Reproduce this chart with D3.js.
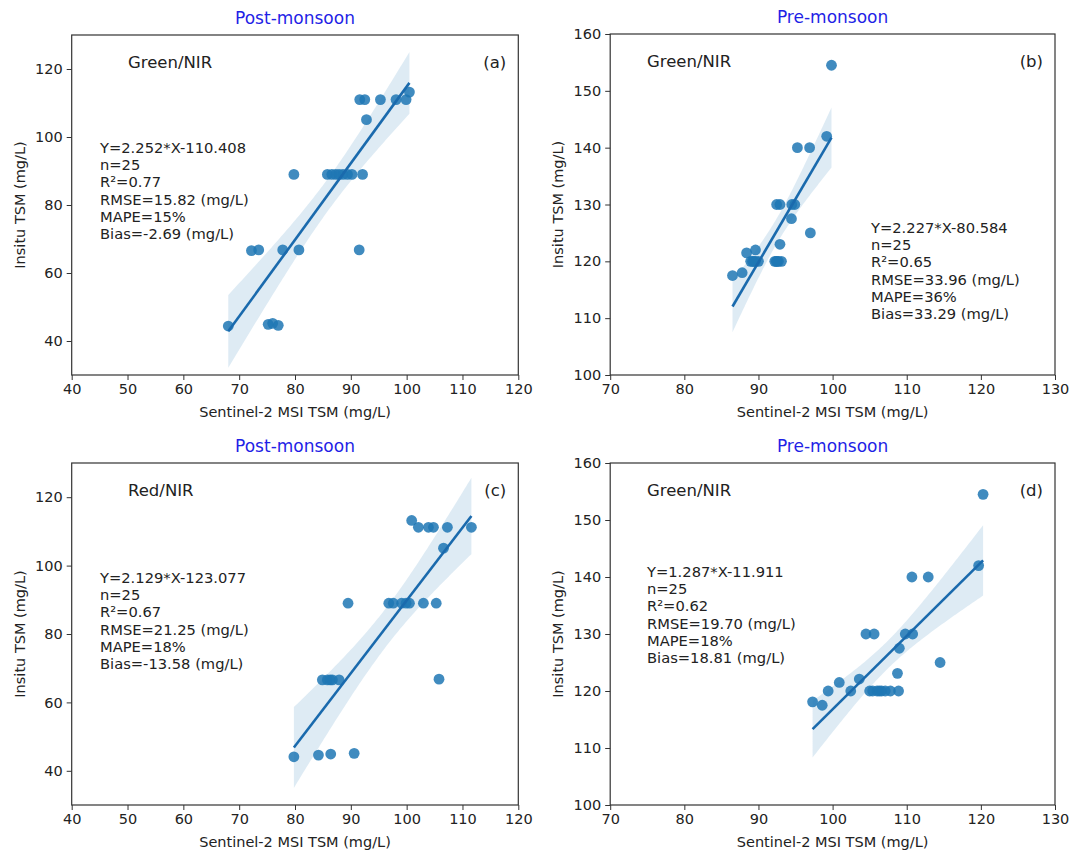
<!DOCTYPE html>
<html>
<head>
<meta charset="utf-8">
<script src="https://cdn.jsdelivr.net/npm/d3@7"></script>
<style>
  body { margin: 0; background: #fff; }
  svg { display: block; }
  text { font-family: "DejaVu Sans", sans-serif; fill: #222; }
</style>
</head>
<body>
<div id="chart"></div>
<script>
// Panel (a) Post-monsoon, Green/NIR
const aSentinel = [68.05, 75.2, 76.0, 77.0, 72.2, 73.5, 77.8, 80.7, 91.5, 79.8,
  85.8, 86.6, 87.3, 87.9, 88.6, 89.4, 90.2, 92.1, 92.8, 91.6, 92.5, 95.3, 98.1, 99.9, 100.5];
const aInsitu = [44.4, 44.9, 45.2, 44.6, 66.6, 66.8, 66.8, 66.8, 66.8, 89.0,
  89.0, 89.0, 89.0, 89.0, 89.0, 89.0, 89.0, 89.0, 105.1, 111.0, 111.0, 111.0, 111.0, 111.0, 113.2];

// Panel (b) Pre-monsoon, Green/NIR
const bSentinel = [86.5, 87.8, 88.4, 89.6, 88.95, 89.4, 90.0, 92.2, 92.7, 93.1,
  92.9, 92.45, 92.9, 94.5, 94.9, 94.45, 97.0, 95.25, 96.9, 99.2, 99.85, 89.6, 92.5, 89.2, 92.4];
const bInsitu = [117.5, 118.0, 121.5, 122.0, 120.0, 120.0, 120.0, 120.0, 120.0, 120.0,
  123.0, 130.0, 130.0, 130.0, 130.0, 127.5, 125.0, 140.0, 140.0, 142.0, 154.5, 120.0, 120.0, 120.0, 120.0];

// Panel (c) Post-monsoon, Red/NIR
const cSentinel = [79.8, 84.2, 86.4, 90.6, 84.9, 85.8, 86.3, 86.7, 87.9, 105.8,
  89.5, 96.8, 97.6, 99.1, 99.9, 100.5, 103.0, 105.3, 106.6, 100.9, 102.1, 103.9, 104.8, 107.3, 111.6];
const cInsitu = [44.1, 44.6, 44.9, 45.1, 66.6, 66.6, 66.6, 66.6, 66.6, 66.8,
  89.0, 89.0, 89.0, 89.0, 89.0, 89.0, 89.0, 89.0, 105.1, 113.2, 111.2, 111.2, 111.2, 111.2, 111.2];

// Panel (d) Pre-monsoon, Green/NIR
const dSentinel = [97.3, 98.6, 99.4, 100.9, 102.45, 103.6, 104.5, 105.6, 105.0, 105.4,
  106.0, 106.6, 107.1, 107.8, 108.9, 108.75, 109.0, 109.8, 110.8, 110.7, 112.9, 114.5, 119.7, 120.3, 106.3];
const dInsitu = [118.1, 117.5, 120.0, 121.5, 120.0, 122.1, 130.0, 130.0, 120.0, 120.0,
  120.0, 120.0, 120.0, 120.0, 120.0, 123.1, 127.5, 130.0, 130.0, 140.0, 140.0, 125.0, 142.0, 154.5, 120.0];

// fitted lines (from the printed equations)
const slopes = [2.252, 2.227, 2.129, 1.287];
const intercepts = [-110.408, -80.584, -123.077, -11.911];

const seasons = ["Post-monsoon", "Pre-monsoon", "Post-monsoon", "Pre-monsoon"];
const bands = ["Green/NIR", "Green/NIR", "Red/NIR", "Green/NIR"];
const letters = ["(a)", "(b)", "(c)", "(d)"];
const stats = [
  ["Y=2.252*X-110.408", "n=25", "R²=0.77", "RMSE=15.82 (mg/L)", "MAPE=15%", "Bias=-2.69 (mg/L)"],
  ["Y=2.227*X-80.584", "n=25", "R²=0.65", "RMSE=33.96 (mg/L)", "MAPE=36%", "Bias=33.29 (mg/L)"],
  ["Y=2.129*X-123.077", "n=25", "R²=0.67", "RMSE=21.25 (mg/L)", "MAPE=18%", "Bias=-13.58 (mg/L)"],
  ["Y=1.287*X-11.911", "n=25", "R²=0.62", "RMSE=19.70 (mg/L)", "MAPE=18%", "Bias=18.81 (mg/L)"]
];

const xTicksPost = [40, 50, 60, 70, 80, 90, 100, 110, 120];
const yTicksPost = [40, 60, 80, 100, 120];
const xTicksPre = [70, 80, 90, 100, 110, 120, 130];
const yTicksPre = [100, 110, 120, 130, 140, 150, 160];

const W = 1076, H = 853;
const svg = d3.select("#chart").append("svg")
  .attr("width", W)
  .attr("height", H);
svg.append("rect").attr("width", W).attr("height", H).attr("fill", "#fff");

const panels = [
  { xs: aSentinel, ys: aInsitu, xDom: [40, 120], yDom: [30, 130], xT: xTicksPost, yT: yTicksPost,
    box: [71.7, 35, 518.3, 375], statPos: [100, 148] },
  { xs: bSentinel, ys: bInsitu, xDom: [70, 130], yDom: [100, 160], xT: xTicksPre, yT: yTicksPre,
    box: [610.2, 34, 1055, 375], statPos: [871, 228] },
  { xs: cSentinel, ys: cInsitu, xDom: [40, 120], yDom: [30, 130], xT: xTicksPost, yT: yTicksPost,
    box: [71.7, 463, 518.3, 805], statPos: [100, 578] },
  { xs: dSentinel, ys: dInsitu, xDom: [70, 130], yDom: [100, 160], xT: xTicksPre, yT: yTicksPre,
    box: [610.2, 463, 1055, 805], statPos: [647, 572] }
];

const blue = "#1f77b4";

panels.forEach((p, i) => {
  const [x0, y0, x1, y1] = p.box;
  const x = d3.scaleLinear().domain(p.xDom).range([x0, x1]);
  const y = d3.scaleLinear().domain(p.yDom).range([y1, y0]);
  const g = svg.append("g");

  // confidence band for the fit
  const n = p.xs.length;
  const xbar = d3.mean(p.xs);
  const sxx = d3.sum(p.xs, v => (v - xbar) ** 2);
  const fit = v => slopes[i] * v + intercepts[i];
  const sse = d3.sum(p.xs, (v, k) => (p.ys[k] - fit(v)) ** 2);
  const s = Math.sqrt(sse / (n - 2));
  const tval = 2.069;
  const [xmin, xmax] = d3.extent(p.xs);
  const grid = d3.range(0, 101).map(k => xmin + (xmax - xmin) * k / 100);
  const hw = v => tval * s * Math.sqrt(1 / n + (v - xbar) ** 2 / sxx);
  g.append("path")
    .datum(grid)
    .attr("d", d3.area()
      .x(v => x(v))
      .y0(v => y(fit(v) - hw(v)))
      .y1(v => y(fit(v) + hw(v))))
    .attr("fill", blue)
    .attr("fill-opacity", 0.15);

  g.selectAll("circle")
    .data(p.xs.map((v, k) => [v, p.ys[k]]))
    .enter()
    .append("circle")
    .attr("cx", d => x(d[0]))
    .attr("cy", d => y(d[1]))
    .attr("r", 5.4)
    .attr("fill", blue)
    .attr("fill-opacity", 0.85);

  g.append("line")
    .attr("x1", x(xmin)).attr("y1", y(fit(xmin)))
    .attr("x2", x(xmax)).attr("y2", y(fit(xmax)))
    .attr("stroke", "#1a6aad")
    .attr("stroke-width", 2.6);

  // axes
  const xa = g.append("g").attr("transform", `translate(0,${y1})`)
    .call(d3.axisBottom(x).tickValues(p.xT).tickSize(5).tickPadding(4).tickFormat(d3.format("d")));
  const ya = g.append("g").attr("transform", `translate(${x0},0)`)
    .call(d3.axisLeft(y).tickValues(p.yT).tickSize(5).tickPadding(4).tickFormat(d3.format("d")));
  [xa, ya].forEach(a => {
    a.select(".domain").remove();
    a.selectAll("line").attr("stroke", "#333");
    a.selectAll("text").style("font-size", "14.5px").attr("fill", "#222");
  });

  g.append("rect")
    .attr("x", x0).attr("y", y0)
    .attr("width", x1 - x0).attr("height", y1 - y0)
    .attr("fill", "none")
    .attr("stroke", "#333")
    .attr("stroke-width", 1.2);

  // titles and labels
  g.append("text")
    .attr("x", (x0 + x1) / 2).attr("y", y0 - 11)
    .attr("text-anchor", "middle")
    .style("font-size", "17px")
    .style("fill", "#1f1fe6")
    .text(seasons[i]);

  g.append("text")
    .attr("x", (x0 + x1) / 2).attr("y", y1 + 42)
    .attr("text-anchor", "middle")
    .style("font-size", "14.5px")
    .text("Sentinel-2 MSI TSM (mg/L)");

  g.append("text")
    .attr("transform", `translate(${x0 - 47},${(y0 + y1) / 2}) rotate(-90)`)
    .attr("text-anchor", "middle")
    .style("font-size", "14.5px")
    .text("Insitu TSM (mg/L)");

  const bandX = i % 2 === 0 ? 128 : 647;
  g.append("text")
    .attr("x", bandX).attr("y", y0 + 33)
    .style("font-size", "16.5px")
    .text(bands[i]);

  g.append("text")
    .attr("x", x1 - 12).attr("y", y0 + 33)
    .attr("text-anchor", "end")
    .style("font-size", "16.5px")
    .text(letters[i]);

  g.append("g").selectAll("text")
    .data(stats[i])
    .enter()
    .append("text")
    .attr("x", p.statPos[0])
    .attr("y", (d, k) => p.statPos[1] + 5 + k * 17.2)
    .style("font-size", "14.7px")
    .text(d => d);
});
</script>
</body>
</html>
